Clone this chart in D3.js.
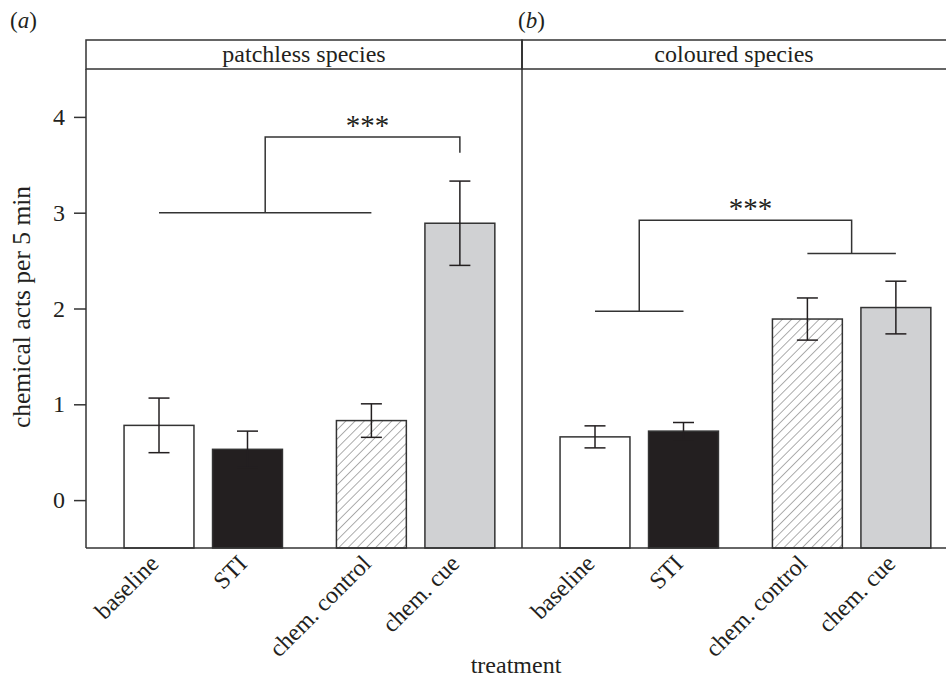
<!DOCTYPE html>
<html>
<head>
<meta charset="utf-8">
<script src="https://cdn.jsdelivr.net/npm/d3@7"></script>
<style>
  body { margin: 0; background: #fff; }
  text { font-family: "Liberation Serif", "Times New Roman", serif; fill: #231f20; }
</style>
</head>
<body>
<div id="chart-area"></div>
<script>
// data
var treatments = ["baseline", "STI", "chem. control", "chem. cue"];
var panels = ["patchless species", "coloured species"];
var panelTags = ["a", "b"];
var meanPatchless = [0.78, 0.53, 0.83, 2.89];
var sePatchless = [0.285, 0.19, 0.175, 0.44];
var meanColoured = [0.66, 0.72, 1.89, 2.01];
var seColoured = [0.115, 0.09, 0.22, 0.275];
var yTicks = [0, 1, 2, 3, 4];

// significance brackets: [left group, right group] and their levels
var sigGroups = [[[0, 2], [3, 3]], [[0, 1], [2, 3]]];
var sigLow = [[3.0, 3.625], [1.97, 2.575]];
var sigTop = [3.79, 2.92];
var sigLabel = ["***", "***"];

var means = [meanPatchless, meanColoured];
var ses = [sePatchless, seColoured];

var width = 946, height = 684;
var margin = { left: 86, top: 40, bottom: 136 };
var panelW = 436, stripH = 29;
var plotTop = margin.top + stripH;
var plotBottom = height - margin.bottom;

var svg = d3.select("#chart-area")
    .append("svg")
        .attr("width", width)
        .attr("height", height);

var y = d3.scaleLinear()
    .domain([-0.5, 4.5])
    .range([plotBottom, plotTop]);

// slot gap between the two pairs of bars
var slot = [0, 1, 2.4, 3.4];
var x = d3.scaleLinear()
    .domain([-0.825, 4.102])
    .range([0, panelW]);
var barW = x(0.79) - x(0);
var capW = 21;

var defs = svg.append("defs");
defs.append("pattern")
    .attr("id", "hatch")
    .attr("patternUnits", "userSpaceOnUse")
    .attr("width", 6.5)
    .attr("height", 6.5)
    .attr("patternTransform", "rotate(45)")
  .append("line")
    .attr("x1", 0).attr("y1", 0)
    .attr("x2", 0).attr("y2", 6.5)
    .attr("stroke", "#5a5a5a")
    .attr("stroke-width", 1);

var fills = ["#ffffff", "#231f20", "url(#hatch)", "#d0d1d3"];

panels.forEach((name, p) => {
    var x0 = margin.left + p * panelW;
    var g = svg.append("g")
        .attr("transform", "translate(" + x0 + ",0)");

    // strip
    g.append("rect")
        .attr("x", 0)
        .attr("y", margin.top)
        .attr("width", panelW)
        .attr("height", stripH)
        .attr("fill", "none")
        .attr("stroke", "#333")
        .attr("stroke-width", 1.5);

    var stripCx = p == 0 ? panelW / 2 : (width - x0) / 2;
    g.append("text")
        .attr("x", stripCx)
        .attr("y", margin.top + 22)
        .attr("text-anchor", "middle")
        .attr("font-size", "24px")
        .text(name);

    // tag
    svg.append("text")
        .attr("x", p == 0 ? 10 : 518)
        .attr("y", 28)
        .attr("font-size", "23px")
        .html("(<tspan font-style='italic'>" + panelTags[p] + "</tspan>)");

    // bars
    g.selectAll("rect.bar")
        .data(treatments)
        .enter()
        .append("rect")
            .attr("class", "bar")
            .attr("x", (d, i) => x(slot[i]) - barW / 2)
            .attr("y", (d, i) => y(means[p][i]))
            .attr("width", barW)
            .attr("height", (d, i) => plotBottom - y(means[p][i]))
            .attr("fill", (d, i) => fills[i])
            .attr("stroke", "#333")
            .attr("stroke-width", 1.5);

    // error bars
    var eb = g.selectAll("g.err")
        .data(treatments)
        .enter()
        .append("g")
            .attr("class", "err")
            .attr("stroke", "#231f20")
            .attr("stroke-width", 1.5);
    eb.append("line")
        .attr("x1", (d, i) => x(slot[i]))
        .attr("x2", (d, i) => x(slot[i]))
        .attr("y1", (d, i) => y(means[p][i] - ses[p][i]))
        .attr("y2", (d, i) => y(means[p][i] + ses[p][i]));
    eb.append("line")
        .attr("x1", (d, i) => x(slot[i]) - capW / 2)
        .attr("x2", (d, i) => x(slot[i]) + capW / 2)
        .attr("y1", (d, i) => y(means[p][i] + ses[p][i]))
        .attr("y2", (d, i) => y(means[p][i] + ses[p][i]));
    eb.append("line")
        .attr("x1", (d, i) => x(slot[i]) - capW / 2)
        .attr("x2", (d, i) => x(slot[i]) + capW / 2)
        .attr("y1", (d, i) => y(means[p][i] - ses[p][i]))
        .attr("y2", (d, i) => y(means[p][i] - ses[p][i]));

    // significance bracket
    var br = g.append("g")
        .attr("stroke", "#333")
        .attr("stroke-width", 1.5)
        .attr("fill", "none");
    var mids = sigGroups[p].map((grp, k) => {
        var a = x(slot[grp[0]]), b = x(slot[grp[1]]);
        if (a != b) {
            br.append("line")
                .attr("x1", a).attr("x2", b)
                .attr("y1", y(sigLow[p][k])).attr("y2", y(sigLow[p][k]));
        }
        return (a + b) / 2;
    });
    br.append("path")
        .attr("d", "M" + mids[0] + "," + y(sigLow[p][0]) +
                   "V" + y(sigTop[p]) +
                   "H" + mids[1] +
                   "V" + y(sigLow[p][1]));
    g.append("text")
        .attr("x", (mids[0] + mids[1]) / 2 + 5)
        .attr("y", y(sigTop[p]) - 2)
        .attr("text-anchor", "middle")
        .attr("font-size", "29px")
        .attr("fill", "#444")
        .text(sigLabel[p]);

    // x labels
    g.selectAll("text.xlab")
        .data(treatments)
        .enter()
        .append("text")
            .attr("class", "xlab")
            .attr("text-anchor", "end")
            .attr("font-size", "24px")
            .attr("transform", (d, i) =>
                "translate(" + (x(slot[i]) + 1) + "," + (plotBottom + 17) + ") rotate(-45)")
            .text(d => d);
});

// frame lines
svg.append("line")
    .attr("x1", margin.left).attr("x2", margin.left)
    .attr("y1", plotTop).attr("y2", plotBottom)
    .attr("stroke", "#333").attr("stroke-width", 1.5);
svg.append("line")
    .attr("x1", margin.left + panelW).attr("x2", margin.left + panelW)
    .attr("y1", margin.top).attr("y2", plotBottom)
    .attr("stroke", "#333").attr("stroke-width", 1.5);
svg.append("line")
    .attr("x1", margin.left).attr("x2", width)
    .attr("y1", plotBottom).attr("y2", plotBottom)
    .attr("stroke", "#333").attr("stroke-width", 1.5);

// Y axis
var yAxisCall = d3.axisLeft(y)
    .tickValues(yTicks)
    .tickFormat(d3.format("d"))
    .tickSize(12)
    .tickPadding(9);
var yAxis = svg.append("g")
    .attr("class", "y axis")
    .attr("transform", "translate(" + margin.left + ",0)")
    .call(yAxisCall);
yAxis.select(".domain").remove();
yAxis.selectAll("line").attr("stroke", "#333").attr("stroke-width", 1.5);
yAxis.selectAll("text")
    .attr("font-size", "24px")
    .attr("font-family", "Liberation Serif")
    .attr("fill", "#231f20");

// Y label
svg.append("text")
    .attr("x", -307)
    .attr("y", 30)
    .attr("font-size", "25.5px")
    .attr("text-anchor", "middle")
    .attr("transform", "rotate(-90)")
    .text("chemical acts per 5 min");

// X label
svg.append("text")
    .attr("x", 516)
    .attr("y", 673)
    .attr("font-size", "24px")
    .attr("text-anchor", "middle")
    .text("treatment");
</script>
</body>
</html>
